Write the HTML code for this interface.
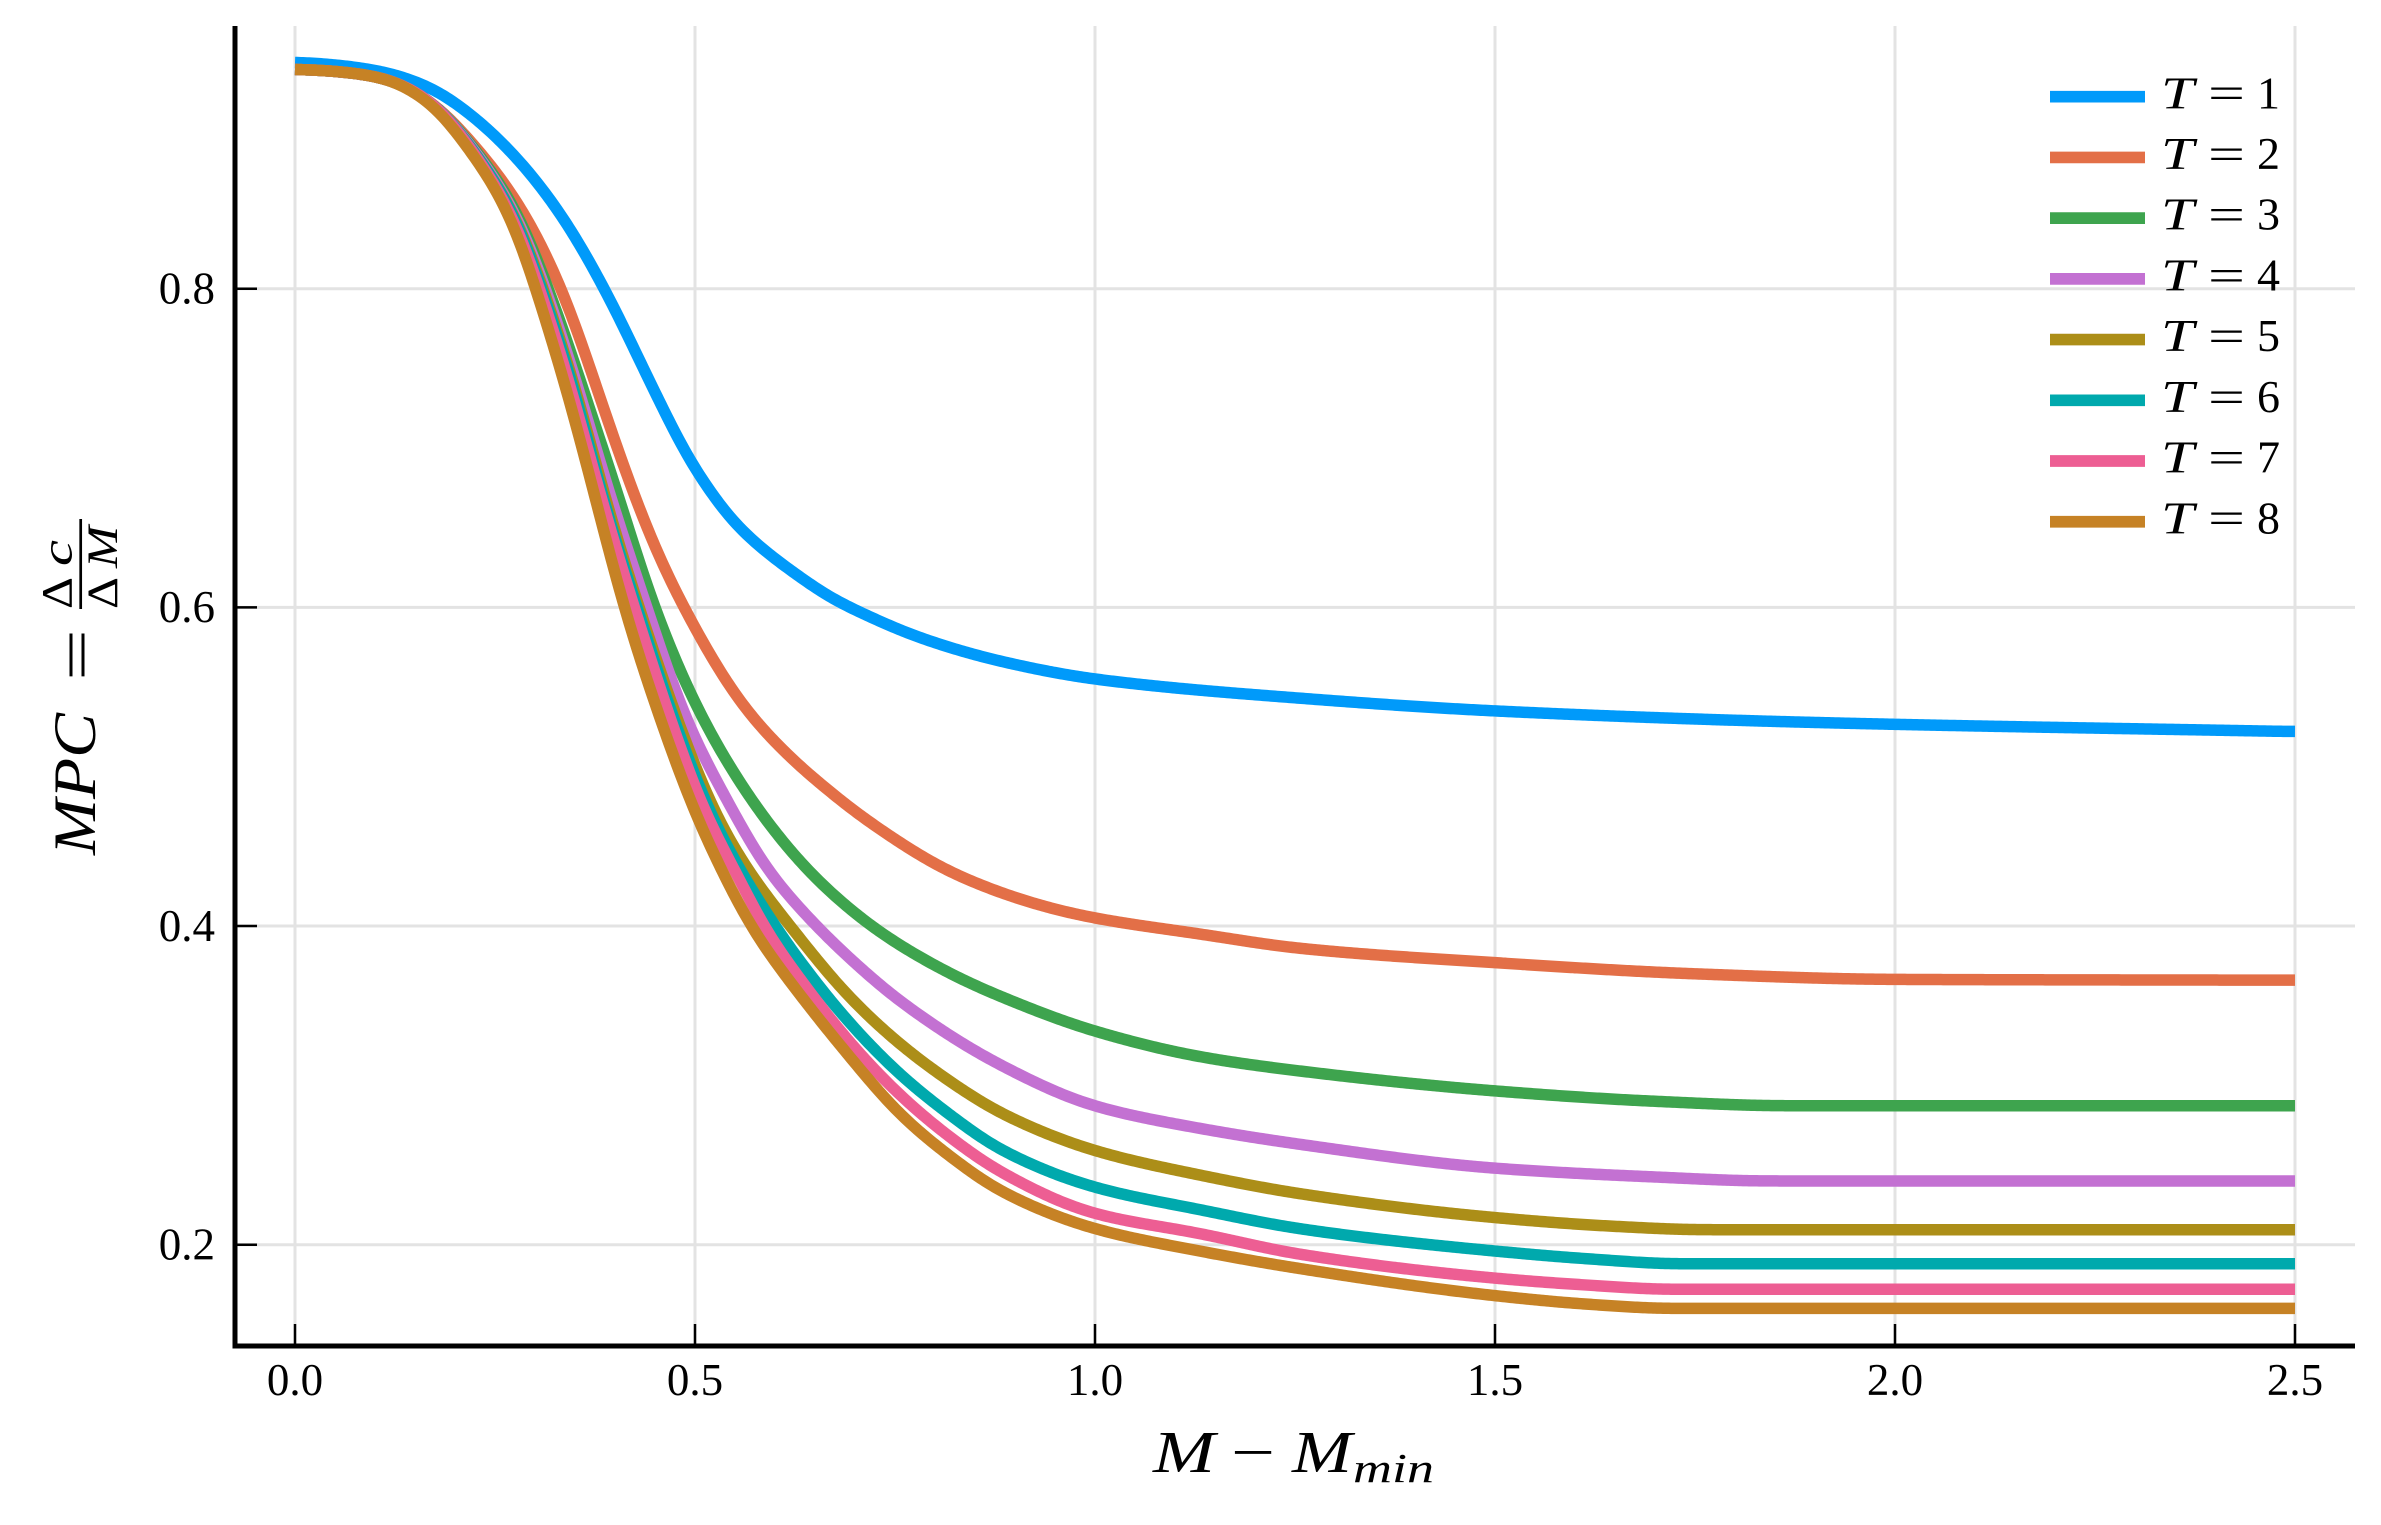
<!DOCTYPE html>
<html>
<head>
<meta charset="utf-8">
<style>
  html,body{margin:0;padding:0;background:#fff;}
  svg{display:block;}
  text{font-family:"Liberation Serif","DejaVu Serif",serif;fill:#000;}
  .it{font-style:italic;}
</style>
</head>
<body>
<svg id="chart" width="2381" height="1525" viewBox="0 0 2381 1525" xmlns="http://www.w3.org/2000/svg">
  <rect x="0" y="0" width="2381" height="1525" fill="#fff"/>
  <!-- grid -->
  <g stroke="#e3e3e3" stroke-width="3">
    <line x1="295" y1="26" x2="295" y2="1346"/>
    <line x1="695" y1="26" x2="695" y2="1346"/>
    <line x1="1095" y1="26" x2="1095" y2="1346"/>
    <line x1="1495" y1="26" x2="1495" y2="1346"/>
    <line x1="1895" y1="26" x2="1895" y2="1346"/>
    <line x1="2295" y1="26" x2="2295" y2="1346"/>
    <line x1="235" y1="1244.7" x2="2355" y2="1244.7"/>
    <line x1="235" y1="926" x2="2355" y2="926"/>
    <line x1="235" y1="607.4" x2="2355" y2="607.4"/>
    <line x1="235" y1="288.7" x2="2355" y2="288.7"/>
  </g>
  <!-- curves -->
  <g id="curves" fill="none" stroke-width="11.5" stroke-linejoin="round" stroke-linecap="butt"></g>
  <!-- axes -->
  <g stroke="#000">
    <line x1="235" y1="26" x2="235" y2="1348.5" stroke-width="5"/>
    <line x1="232.5" y1="1346" x2="2355" y2="1346" stroke-width="5"/>
    <g stroke-width="2.5">
      <line x1="235" y1="1244.7" x2="257" y2="1244.7"/>
      <line x1="235" y1="926" x2="257" y2="926"/>
      <line x1="235" y1="607.4" x2="257" y2="607.4"/>
      <line x1="235" y1="288.7" x2="257" y2="288.7"/>
      <line x1="295" y1="1346" x2="295" y2="1324"/>
      <line x1="695" y1="1346" x2="695" y2="1324"/>
      <line x1="1095" y1="1346" x2="1095" y2="1324"/>
      <line x1="1495" y1="1346" x2="1495" y2="1324"/>
      <line x1="1895" y1="1346" x2="1895" y2="1324"/>
      <line x1="2295" y1="1346" x2="2295" y2="1324"/>
    </g>
  </g>
  <!-- y tick labels -->
  <g font-size="45" text-anchor="end">
    <text x="215" y="1259.5">0.2</text>
    <text x="215" y="940.8">0.4</text>
    <text x="215" y="622.2">0.6</text>
    <text x="215" y="303.5">0.8</text>
  </g>
  <!-- x tick labels -->
  <g font-size="45" text-anchor="middle">
    <text x="295" y="1395">0.0</text>
    <text x="695" y="1395">0.5</text>
    <text x="1095" y="1395">1.0</text>
    <text x="1495" y="1395">1.5</text>
    <text x="1895" y="1395">2.0</text>
    <text x="2295" y="1395">2.5</text>
  </g>
  <!-- x label -->
  <text class="it" x="1153" y="1472" font-size="59" textLength="62" lengthAdjust="spacingAndGlyphs">M</text>
  <text x="1231" y="1472" font-size="59" textLength="44" lengthAdjust="spacingAndGlyphs">−</text>
  <text class="it" x="1292" y="1472" font-size="59" textLength="60" lengthAdjust="spacingAndGlyphs">M</text>
  <text class="it" x="1353" y="1482" font-size="41" textLength="81" lengthAdjust="spacingAndGlyphs">min</text>
  <!-- y label (rotated) -->
  <g transform="rotate(-90)">
    <text class="it" x="-855" y="95" font-size="60" textLength="142" lengthAdjust="spacingAndGlyphs">MPC</text>
    <text x="-681" y="97" font-size="60" textLength="52" lengthAdjust="spacingAndGlyphs">=</text>
    <line x1="-609" y1="80.7" x2="-519" y2="80.7" stroke="#000" stroke-width="2.7"/>
    <text x="-609" y="71.7" font-size="43" textLength="32" lengthAdjust="spacingAndGlyphs">Δ</text>
    <text class="it" x="-566" y="71.7" font-size="43" textLength="26" lengthAdjust="spacingAndGlyphs">c</text>
    <text x="-609" y="117" font-size="43" textLength="32" lengthAdjust="spacingAndGlyphs">Δ</text>
    <text class="it" x="-568" y="117" font-size="43" textLength="42" lengthAdjust="spacingAndGlyphs">M</text>
  </g>
  <!-- legend -->
  <g id="legend"></g>
</svg>
<script>
(function(){
  var NS="http://www.w3.org/2000/svg";
  function X(x){return 295+800*x;}
  function Y(y){return 288.7+(0.8-y)*1593.3;}
  var head=[[0,0.938],[0.06,0.936],[0.1116,0.932],[0.168,0.918]];
  var series=[
    ["#009AFA",[[0,0.9425],[0.06,0.940],[0.1116,0.936],[0.17,0.926],[0.223,0.908],[0.281,0.880],[0.336,0.844],[0.391,0.796],[0.447,0.738],[0.498,0.688],[0.5146,0.676],[0.540,0.658],[0.581,0.638],[0.623,0.622],[0.67,0.606],[0.706,0.597],[0.781,0.581],[0.8835,0.566],[1.0,0.555],[1.256,0.543],[1.5,0.535],[1.881,0.528],[2.5,0.522]]],
    ["#E36F47",head.concat([[0.224,0.890],[0.281,0.852],[0.336,0.797],[0.379,0.735],[0.4167,0.680],[0.4563,0.630],[0.486,0.600],[0.5396,0.553],[0.5675,0.5335],[0.623,0.504],[0.656,0.4896],[0.716,0.466],[0.8277,0.432],[0.939,0.412],[1.0,0.405],[1.131,0.395],[1.256,0.386],[1.5,0.377],[1.75,0.370],[2.0,0.3665],[2.5,0.366]])],
    ["#3EA44E",head.concat([[0.224,0.888],[0.28,0.846],[0.307,0.813],[0.335,0.775],[0.3646,0.730],[0.398,0.680],[0.449,0.600],[0.506,0.5335],[0.56,0.487],[0.6,0.459],[0.631,0.4405],[0.66,0.4255],[0.716,0.4017],[0.756,0.388],[0.8277,0.368],[0.881,0.356],[1.0,0.334],[1.131,0.318],[1.256,0.309],[1.5,0.2965],[1.7,0.290],[1.865,0.2872],[2.5,0.2872]])],
    ["#C371D2",head.concat([[0.224,0.887],[0.28,0.843],[0.307,0.809],[0.335,0.768],[0.356,0.735],[0.3875,0.680],[0.44,0.600],[0.4854,0.5335],[0.549,0.4708],[0.585,0.4393],[0.648,0.402],[0.706,0.374],[0.756,0.353],[0.881,0.313],[1.0,0.287],[1.131,0.273],[1.256,0.263],[1.5,0.248],[1.7,0.2425],[1.84,0.240],[2.5,0.240]])],
    ["#AC8E18",head.concat([[0.224,0.886],[0.28,0.841],[0.307,0.805],[0.335,0.763],[0.363,0.716],[0.381,0.680],[0.43,0.600],[0.475,0.5335],[0.525,0.4708],[0.565,0.436],[0.619,0.400],[0.69,0.357],[0.756,0.326],[0.82,0.302],[0.881,0.283],[1.0,0.259],[1.131,0.2437],[1.256,0.232],[1.5,0.217],[1.65,0.2115],[1.76,0.2094],[2.5,0.2094]])],
    ["#00A9AD",head.concat([[0.224,0.886],[0.28,0.840],[0.307,0.802],[0.335,0.760],[0.363,0.712],[0.378,0.680],[0.427,0.601],[0.4708,0.5335],[0.5188,0.4708],[0.56,0.432],[0.6,0.400],[0.631,0.378],[0.69,0.341],[0.756,0.307],[0.82,0.281],[0.881,0.260],[1.0,0.236],[1.131,0.222],[1.256,0.210],[1.5,0.196],[1.62,0.191],[1.73,0.188],[2.5,0.188]])],
    ["#ED5E93",head.concat([[0.224,0.885],[0.28,0.837],[0.307,0.798],[0.335,0.755],[0.363,0.705],[0.376,0.680],[0.424,0.600],[0.4667,0.5335],[0.5125,0.4708],[0.55,0.435],[0.5854,0.400],[0.631,0.367],[0.69,0.329],[0.756,0.294],[0.82,0.267],[0.881,0.246],[1.0,0.2195],[1.131,0.207],[1.256,0.194],[1.5,0.179],[1.62,0.1745],[1.72,0.172],[2.5,0.172]])],
    ["#C68225",[[0,0.938],[0.06,0.936],[0.1116,0.932],[0.168,0.917],[0.224,0.883],[0.252,0.862],[0.28,0.833],[0.307,0.790],[0.335,0.745],[0.3696,0.680],[0.411,0.600],[0.454,0.5335],[0.5,0.4708],[0.529,0.4393],[0.5696,0.400],[0.631,0.357],[0.69,0.320],[0.756,0.282],[0.82,0.255],[0.881,0.234],[1.0,0.210],[1.131,0.196],[1.256,0.185],[1.5,0.168],[1.62,0.1625],[1.72,0.160],[2.5,0.160]]]
  ];
  function dense(data){
    var xs=data.map(function(p){return X(p[0]);}), ys=data.map(function(p){return Y(p[1]);});
    var n=xs.length, d=[], m=new Array(n), i;
    for(i=0;i<n-1;i++) d.push((ys[i+1]-ys[i])/(xs[i+1]-xs[i]));
    m[0]=d[0]; m[n-1]=d[n-2];
    for(i=1;i<n-1;i++){
      if(d[i-1]*d[i]<=0){m[i]=0;}
      else{
        var h0=xs[i]-xs[i-1], h1=xs[i+1]-xs[i];
        var w1=2*h1+h0, w2=h1+2*h0;
        m[i]=(w1+w2)/(w1/d[i-1]+w2/d[i]);
      }
    }
    var out=[], seg=0;
    var x0=Math.round(xs[0]), x1=Math.round(xs[n-1]);
    for(var x=x0;x<=x1;x++){
      while(seg<n-2 && x>xs[seg+1]) seg++;
      var h=xs[seg+1]-xs[seg], t=(x-xs[seg])/h;
      if(t<0)t=0; if(t>1)t=1;
      var t2=t*t,t3=t2*t;
      var y=(2*t3-3*t2+1)*ys[seg]+(t3-2*t2+t)*h*m[seg]+(-2*t3+3*t2)*ys[seg+1]+(t3-t2)*h*m[seg+1];
      out.push([x,y]);
    }
    return out;
  }
  function smooth(pts,sigma){
    var n=pts.length, r=Math.ceil(3*sigma), w=[], k;
    for(k=-r;k<=r;k++) w.push(Math.exp(-k*k/(2*sigma*sigma)));
    var res=[];
    for(var i=0;i<n;i++){
      var s=0,ws=0;
      for(k=-r;k<=r;k++){
        var j=i+k; if(j<0||j>=n) continue;
        s+=w[k+r]*pts[j][1]; ws+=w[k+r];
      }
      res.push([pts[i][0],s/ws]);
    }
    return res;
  }
  function pathFor(data){
    var p=smooth(dense(data),14);
    var s="M"+p[0][0]+","+p[0][1].toFixed(2);
    for(var i=1;i<p.length;i++){
      if(i%2===0 || i===p.length-1) s+=" L"+p[i][0]+","+p[i][1].toFixed(2);
    }
    return s;
  }
  var g=document.getElementById("curves");
  series.forEach(function(s){
    var p=document.createElementNS(NS,"path");
    p.setAttribute("d",pathFor(s[1]));
    p.setAttribute("stroke",s[0]);
    g.appendChild(p);
  });
  var lg=document.getElementById("legend");
  series.forEach(function(s,i){
    var cy=96.7+60.72*i;
    var l=document.createElementNS(NS,"line");
    l.setAttribute("x1","2050");l.setAttribute("x2","2145");
    l.setAttribute("y1",cy);l.setAttribute("y2",cy);
    l.setAttribute("stroke",s[0]);l.setAttribute("stroke-width","11.7");
    lg.appendChild(l);
    function t(x,y,txt,it,len){
      var e=document.createElementNS(NS,"text");
      e.setAttribute("x",x);e.setAttribute("y",y);
      e.setAttribute("font-size","45");
      if(it) e.setAttribute("class","it");
      if(len){e.setAttribute("textLength",len);e.setAttribute("lengthAdjust","spacingAndGlyphs");}
      e.textContent=txt;lg.appendChild(e);
    }
    t(2161,cy+11.6,"T",true,33);
    t(2208,cy+12,"=",false,37);
    t(2257,cy+11.6,String(i+1),false,23);
  });
})();
</script>
</body>
</html>
